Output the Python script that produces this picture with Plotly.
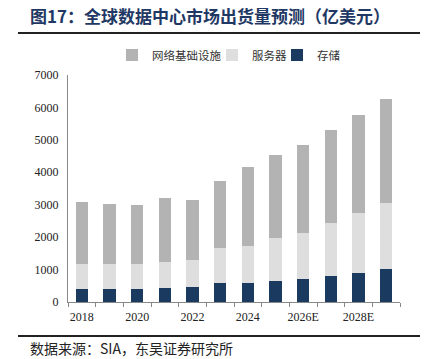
import plotly.graph_objects as go

years = ["2018", "2019", "2020", "2021", "2022", "2023", "2024",
         "2025E", "2026E", "2027E", "2028E", "2029E"]
tick_labels = ["2018", "", "2020", "", "2022", "", "2024", "", "2026E", "", "2028E", ""]
storage = [409, 388, 409, 440, 450, 572, 584, 655, 707, 788, 892, 1003]
server = [769, 769, 759, 790, 830, 1078, 1158, 1323, 1435, 1642, 1856, 2062]
network = [1899, 1877, 1835, 1979, 1858, 2092, 2431, 2554, 2698, 2862, 3015, 3190]

W, H = 428, 359
ML, MR, MT, MB = 68, 28, 75, 57
PW, PH = W - ML - MR, H - MT - MB

def px(x):
    return (x - ML) / PW

def py(y):
    return (H - MB - y) / PH

serif = "Liberation Serif, Times New Roman, Noto Serif CJK SC, Noto Sans CJK SC, serif"
cjk = "Noto Sans CJK SC, Liberation Serif, serif"

fig = go.Figure()
fig.add_trace(go.Bar(x=years, y=storage, name="存储", legend="legend3",
                     marker=dict(color="#1B3A5F", line=dict(width=0))))
fig.add_trace(go.Bar(x=years, y=server, name="服务器", legend="legend2",
                     marker=dict(color="#DEDEDE", line=dict(width=0))))
fig.add_trace(go.Bar(x=years, y=network, name="网络基础设施", legend="legend",
                     marker=dict(color="#B3B3B3", line=dict(width=0))))

def leg(xpix):
    return dict(orientation="h", x=px(xpix), xanchor="left", y=py(55), yanchor="middle",
                font=dict(family=cjk, size=11.5, color="#333"), itemwidth=30,
                bgcolor="rgba(0,0,0,0)", borderwidth=0)

fig.update_layout(
    width=W, height=H,
    margin=dict(l=ML, r=MR, t=MT, b=MB, autoexpand=False),
    barmode="stack", bargap=0.56,
    plot_bgcolor="white", paper_bgcolor="white",
    font=dict(family=serif, size=12, color="#222"),
    showlegend=True,
    legend=leg(112),
    legend2=leg(212),
    legend3=leg(277),
    xaxis=dict(type="category", tickvals=years, ticktext=tick_labels, tickson="boundaries",
               ticks="outside", ticklen=4, tickcolor="#888", showline=True, linecolor="#888",
               linewidth=1, showgrid=False, tickangle=0, automargin=False,
               ticklabelstandoff=4,
               tickfont=dict(family=serif, size=12, color="#222")),
    yaxis=dict(range=[0, 7000], dtick=1000, showline=True, linecolor="#888", linewidth=1,
               ticks="", showgrid=False, zeroline=False, automargin=False,
               ticklabelstandoff=6,
               tickfont=dict(family=serif, size=12, color="#222")),
    shapes=[
        dict(type="line", xref="paper", yref="paper", x0=px(18), x1=px(420), y0=py(33), y1=py(33),
             line=dict(color="#222", width=2)),
        dict(type="line", xref="paper", yref="paper", x0=px(18), x1=px(420), y0=py(336), y1=py(336),
             line=dict(color="#222", width=2)),
    ],
    annotations=[
        dict(text="<b>图17：全球数据中心市场出货量预测（亿美元）</b>", xref="paper", yref="paper",
             x=px(28), y=py(16), xanchor="left", yanchor="middle", showarrow=False,
             font=dict(family=cjk, size=17, color="#1F3864")),
        dict(text="数据来源：SIA，东吴证券研究所", xref="paper", yref="paper",
             x=px(28), y=py(348), xanchor="left", yanchor="middle", showarrow=False,
             font=dict(family=cjk, size=14, color="#222")),
    ],
)

fig.write_html("out.html", config={"displayModeBar": False},
               post_script="document.body.style.margin='0';document.body.style.overflow='hidden';")
